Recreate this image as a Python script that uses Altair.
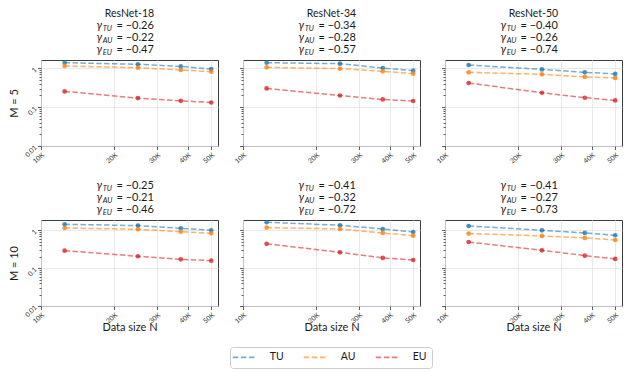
import altair as alt
import pandas as pd

# ---------------- data ----------------
N_VALUES = [12500, 25000, 37500, 50000]
X_TICKS = [10000, 20000, 30000, 40000, 50000]
Y_TICKS = [0.01, 0.1, 1]
Y_MINOR = [0.02, 0.03, 0.04, 0.05, 0.06, 0.07, 0.08, 0.09,
           0.2, 0.3, 0.4, 0.5, 0.6, 0.7, 0.8, 0.9]
MODELS = ["ResNet-18", "ResNet-34", "ResNet-50"]
ENSEMBLES = [5, 10]
SERIES = ["TU", "AU", "EU"]
COLORS = ["#1f77b4", "#ff7f0e", "#d62728"]

# M = 5
TU_R18_M5 = [1.40, 1.27, 1.12, 0.96]
AU_R18_M5 = [1.15, 1.04, 0.91, 0.82]
EU_R18_M5 = [0.255, 0.171, 0.146, 0.132]
TU_R34_M5 = [1.40, 1.32, 1.02, 0.87]
AU_R34_M5 = [1.06, 0.98, 0.84, 0.73]
EU_R34_M5 = [0.304, 0.200, 0.158, 0.144]
TU_R50_M5 = [1.22, 0.94, 0.79, 0.72]
AU_R50_M5 = [0.79, 0.70, 0.60, 0.565]
EU_R50_M5 = [0.42, 0.235, 0.175, 0.149]
# M = 10
TU_R18_M10 = [1.44, 1.33, 1.13, 1.00]
AU_R18_M10 = [1.15, 1.06, 0.92, 0.83]
EU_R18_M10 = [0.29, 0.206, 0.171, 0.158]
TU_R34_M10 = [1.63, 1.36, 1.08, 0.90]
AU_R34_M10 = [1.18, 1.08, 0.85, 0.72]
EU_R34_M10 = [0.44, 0.262, 0.186, 0.164]
TU_R50_M10 = [1.30, 1.00, 0.85, 0.74]
AU_R50_M10 = [0.82, 0.71, 0.63, 0.555]
EU_R50_M10 = [0.49, 0.296, 0.214, 0.175]

# fitted exponents shown in the panel titles (TU, AU, EU)
GAMMA_R18_M5 = ["−0.26", "−0.22", "−0.47"]
GAMMA_R34_M5 = ["−0.34", "−0.28", "−0.57"]
GAMMA_R50_M5 = ["−0.40", "−0.26", "−0.74"]
GAMMA_R18_M10 = ["−0.25", "−0.21", "−0.46"]
GAMMA_R34_M10 = ["−0.41", "−0.32", "−0.72"]
GAMMA_R50_M10 = ["−0.41", "−0.27", "−0.73"]

Y_DOMAIN_M5 = [0.01, 1.64]
Y_DOMAIN_M10 = [0.01, 1.87]
X_DOMAIN = [10000, 53300]

PANELS = [
    ("ResNet-18", 5, (TU_R18_M5, AU_R18_M5, EU_R18_M5), GAMMA_R18_M5),
    ("ResNet-34", 5, (TU_R34_M5, AU_R34_M5, EU_R34_M5), GAMMA_R34_M5),
    ("ResNet-50", 5, (TU_R50_M5, AU_R50_M5, EU_R50_M5), GAMMA_R50_M5),
    ("ResNet-18", 10, (TU_R18_M10, AU_R18_M10, EU_R18_M10), GAMMA_R18_M10),
    ("ResNet-34", 10, (TU_R34_M10, AU_R34_M10, EU_R34_M10), GAMMA_R34_M10),
    ("ResNet-50", 10, (TU_R50_M10, AU_R50_M10, EU_R50_M10), GAMMA_R50_M10),
]

# ---------------- style ----------------
FONT = "Lato"
TEXT = "#1a1a1a"
W, H = 177, 86


def txt(text, x, y, size, style="normal", align="left"):
    return alt.Chart(alt.Data(values=[{}])).mark_text(
        text=text, fontSize=size, fontStyle=style, align=align,
        baseline="middle", font=FONT, color=TEXT,
    ).encode(x=alt.value(x), y=alt.value(y))


legend = alt.Legend(
    orient="none", legendX=189, legendY=287, direction="horizontal",
    title=None, symbolType="M-3.4,0L3.4,0", symbolSize=50, symbolOffset=4.5,
    symbolStrokeWidth=1.6, symbolDash=[5.5, 2.6], symbolOpacity=0.6,
    labelFont=FONT, labelFontSize=10.5, labelColor=TEXT, labelOffset=19.7,
    columnPadding=16, padding=5, strokeColor="#cccccc", fillColor="white",
    cornerRadius=3,
)

panels = []
for idx, (model, m, vals, gammas) in enumerate(PANELS):
    row, col = divmod(idx, 3)
    rows = []
    for s, v in zip(SERIES, vals):
        for n, y in zip(N_VALUES, v):
            rows.append({"N": n, "value": y, "series": s})
    df = pd.DataFrame(rows)
    ydom = Y_DOMAIN_M5 if m == 5 else Y_DOMAIN_M10

    xscale = alt.Scale(type="log", domain=X_DOMAIN, nice=False)
    yscale = alt.Scale(type="log", domain=ydom, nice=False)
    xaxis = alt.Axis(
        values=X_TICKS, labelExpr="round(datum.value/1000) + 'K'",
        labelAngle=-40, title="Data size N" if row == 1 else None,
        grid=True, titleY=21, titleBaseline="middle",
    )
    yaxis = alt.Axis(
        values=Y_TICKS, format="~g", labelAngle=-45, grid=True,
        labels=(col == 0), title=(f"M = {m}" if col == 0 else None),
    )
    yminor = alt.Axis(values=Y_MINOR, labels=False, tickSize=2, grid=False,
                      domain=False, title=None, orient="left")

    base = alt.Chart(df)
    line = base.mark_line(strokeDash=[5.5, 2.4], strokeWidth=1.5,
                          opacity=0.6).encode(
        x=alt.X("N:Q", scale=xscale, axis=xaxis),
        y=alt.Y("value:Q", scale=yscale, axis=yaxis),
        color=alt.Color("series:N",
                        scale=alt.Scale(domain=SERIES, range=COLORS),
                        legend=legend),
    )
    pts = base.mark_point(filled=True, size=22, opacity=0.8,
                          strokeWidth=0).encode(
        x=alt.X("N:Q", scale=xscale, axis=xaxis),
        y=alt.Y("value:Q", scale=yscale, axis=yminor),
        fill=alt.Fill("series:N",
                      scale=alt.Scale(domain=SERIES, range=COLORS),
                      legend=None),
    )
    layers = [line, pts]
    cx = W / 2
    if row == 0:
        layers.append(txt(model, cx, -46, 10.5, align="center"))
    for k, (s, g) in enumerate(zip(SERIES, gammas)):
        yy = -34 + 12 * k
        layers.append(txt("γ", cx - 33, yy, 11, style="italic"))
        layers.append(txt(s, cx - 26.8, yy + 3, 7.5, style="italic"))
        layers.append(txt(f"= {g}", cx - 13, yy, 11))
    p = alt.layer(*layers).resolve_axis(y="independent").properties(
        width=W, height=H)
    panels.append(p)

chart = alt.concat(
    *panels, columns=3, spacing={"row": 74, "column": 25}, bounds="flush"
).properties(padding={"left": 0, "top": 0, "right": 0, "bottom": 0}
).configure_view(stroke="#3d3d3d", strokeWidth=1
).configure_axis(
    labelFont=FONT, labelFontSize=6.8, labelColor="#333333",
    tickColor="#333333", tickSize=3.5, tickWidth=0.8, domain=False,
    gridColor="#e3e3e3", gridWidth=0.8,
    titleFont=FONT, titleFontSize=11, titleFontWeight="normal",
    titleColor=TEXT, labelPadding=2,
)

chart.save("out.html", embed_options={"renderer": "svg", "actions": False})
